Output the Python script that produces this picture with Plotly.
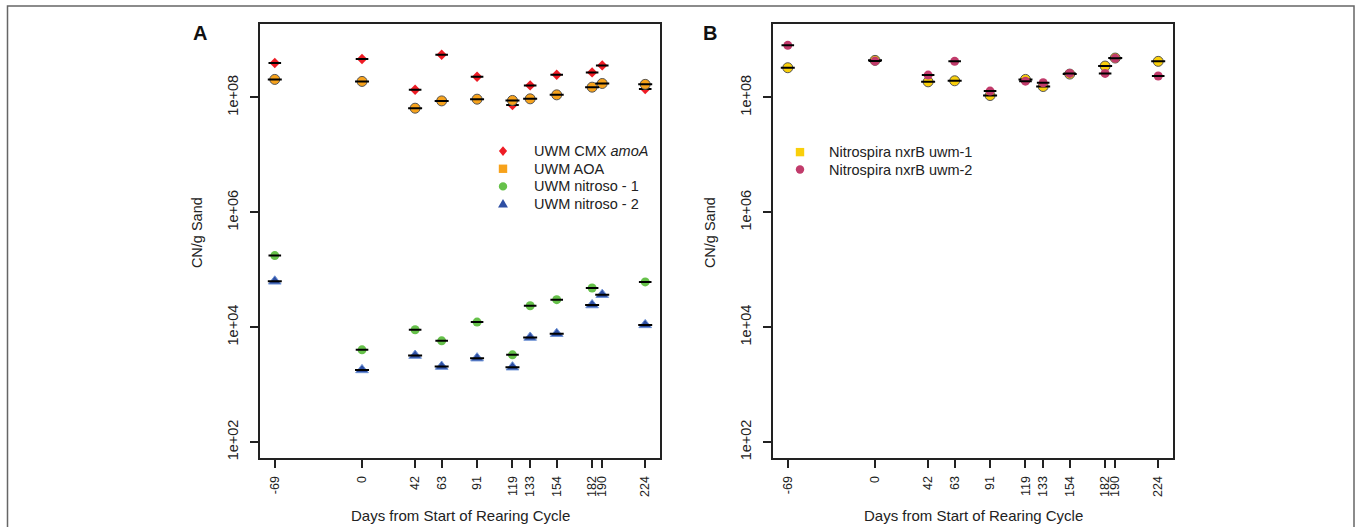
import plotly.graph_objects as go

W, H = 1358, 527

# ---------------- data ----------------
days = [-69, 0, 42, 63, 91, 119, 133, 154, 182, 190, 224]
day_labels = [str(d) for d in days]

cmx_amoA = [3.97e8, 4.66e8, 1.36e8, 5.55e8, 2.29e8, 7.41e7, 1.62e8, 2.48e8, 2.73e8, 3.61e8, 1.40e8]
aoa = [2.06e8, 1.90e8, 6.50e7, 8.71e7, 9.33e7, 8.87e7, 9.46e7, 1.11e8, 1.51e8, 1.75e8, 1.69e8]
nitroso_1 = [1.77e5, 4.05e3, 9.04e3, 5.81e3, 1.23e4, 3.31e3, 2.37e4, 3.02e4, 4.83e4, None, 6.15e4]
nitroso_2 = [6.31e4, 1.81e3, 3.22e3, 2.07e3, 2.90e3, 2.02e3, 6.64e3, 7.71e3, 2.44e4, 3.69e4, 1.10e4]

nxrB_uwm1 = [3.29e8, 4.42e8, 1.87e8, 1.95e8, 1.08e8, 2.06e8, 1.55e8, 2.55e8, 3.52e8, 4.85e8, 4.25e8]
nxrB_uwm2 = [8.07e8, 4.30e8, 2.45e8, 4.25e8, 1.29e8, 1.92e8, 1.80e8, 2.62e8, 2.62e8, 4.79e8, 2.36e8]

y_tickvals = [1e2, 1e4, 1e6, 1e8]
y_ticktext = ["1e+02", "1e+04", "1e+06", "1e+08"]

legend_a = ["UWM CMX <i>amoA</i>", "UWM AOA", "UWM nitroso - 1", "UWM nitroso - 2"]
legend_b = ["Nitrospira nxrB uwm-1", "Nitrospira nxrB uwm-2"]

RED = "#ee1c25"
ORANGE = "#f7a21b"
GREEN = "#66c14a"
BLUE = "#2e4fa3"
YELLOW = "#f9cf0a"
MAGENTA = "#c13b6b"

FONT = "Liberation Sans, Arial, sans-serif"


def px(x):
    return x / W


def py(y):
    return 1 - y / H


fig = go.Figure()


def add_series(xa, ya, yvals, name, symbol, color, size, line_color=None, line_width=0, bar_w=9):
    fig.add_trace(go.Scatter(
        x=days, y=yvals, mode="markers", name=name, showlegend=False,
        xaxis=xa, yaxis=ya,
        marker=dict(symbol=symbol, color=color, size=size,
                    line=dict(color=line_color or color, width=line_width)),
        hoverinfo="x+y"))
    fig.add_trace(go.Scatter(
        x=days, y=yvals, mode="markers", showlegend=False, hoverinfo="skip",
        xaxis=xa, yaxis=ya,
        marker=dict(symbol="line-ew", size=bar_w, color="black",
                    line=dict(color="black", width=2))))


# Panel A
add_series("x", "y", cmx_amoA, legend_a[0], "diamond", RED, 8, bar_w=9)
add_series("x", "y", aoa, legend_a[1], "circle", ORANGE, 10, line_color="#555555", line_width=1, bar_w=10)
add_series("x", "y", nitroso_1, legend_a[2], "circle", GREEN, 9, bar_w=9)
add_series("x", "y", nitroso_2, legend_a[3], "triangle-up", BLUE, 11, line_color="#6f93d6", line_width=1, bar_w=10)

# Panel B
add_series("x2", "y2", nxrB_uwm1, legend_b[0], "circle", YELLOW, 10, line_color="#555555", line_width=1, bar_w=10)
add_series("x2", "y2", nxrB_uwm2, legend_b[1], "circle", MAGENTA, 9, bar_w=9)

ydom = [py(460), py(24)]
xaxis_common = dict(
    range=[-80.7, 235.7], tickmode="array", tickvals=days, ticktext=day_labels,
    tickangle=-90, ticks="outside", ticklen=8, tickwidth=1.5, tickcolor="#222222",
    showline=True, linecolor="#222222", linewidth=1.6, mirror=True,
    showgrid=False, zeroline=False, tickfont=dict(family=FONT, size=12.5, color="#222222"),
    ticklabelstandoff=3,
)
yaxis_common = dict(
    type="log", range=[1.72, 9.28], domain=ydom, tickmode="array",
    tickvals=y_tickvals, ticktext=y_ticktext, tickangle=-90,
    ticks="outside", ticklen=8, tickwidth=1.5, tickcolor="#222222",
    showline=True, linecolor="#222222", linewidth=1.6, mirror=True,
    showgrid=False, zeroline=False, tickfont=dict(family=FONT, size=14.5, color="#222222"),
    ticklabelstandoff=6,
)

fig.update_layout(
    width=W, height=H, margin=dict(l=0, r=0, t=0, b=0),
    paper_bgcolor="white", plot_bgcolor="white", showlegend=False,
    font=dict(family=FONT, color="#222222"),
    xaxis=dict(domain=[px(260), px(660)], anchor="y", **xaxis_common),
    yaxis=dict(anchor="x", **yaxis_common),
    xaxis2=dict(domain=[px(773), px(1173)], anchor="y2", **xaxis_common),
    yaxis2=dict(anchor="x2", **yaxis_common),
)

shapes = []
annotations = []

# outer border
shapes.append(dict(type="rect", xref="paper", yref="paper",
                   x0=px(7.5), x1=px(1354), y0=-0.05, y1=py(6),
                   line=dict(color="#666666", width=1.5), fillcolor="rgba(0,0,0,0)", layer="below"))

# panel letters
annotations.append(dict(text="<b>A</b>", x=px(200), y=py(33), xref="paper", yref="paper",
                        showarrow=False, font=dict(size=20, family=FONT, color="#111111"),
                        xanchor="center", yanchor="middle"))
annotations.append(dict(text="<b>B</b>", x=px(710), y=py(33), xref="paper", yref="paper",
                        showarrow=False, font=dict(size=20, family=FONT, color="#111111"),
                        xanchor="center", yanchor="middle"))

# axis titles
for cx in [460, 973]:
    annotations.append(dict(text="Days from Start of Rearing Cycle", x=px(cx), y=py(517),
                            xref="paper", yref="paper", showarrow=False,
                            font=dict(size=15, family=FONT, color="#222222"),
                            xanchor="center", yanchor="middle"))
for tx in [197, 710]:
    annotations.append(dict(text="CN/g Sand", x=px(tx), y=py(234), textangle=-90,
                            xref="paper", yref="paper", showarrow=False,
                            font=dict(size=14.5, family=FONT, color="#222222"),
                            xanchor="center", yanchor="middle"))


# legend markers (drawn as shapes) + text
def diamond(cx, cy, r, color):
    path = (f"M {px(cx)},{py(cy - r)} L {px(cx + r * 0.85)},{py(cy)} "
            f"L {px(cx)},{py(cy + r)} L {px(cx - r * 0.85)},{py(cy)} Z")
    return dict(type="path", xref="paper", yref="paper", path=path,
                fillcolor=color, line=dict(width=0))


def square(cx, cy, r, color):
    return dict(type="rect", xref="paper", yref="paper", x0=px(cx - r), x1=px(cx + r),
                y0=py(cy + r), y1=py(cy - r), fillcolor=color, line=dict(width=0))


def circle(cx, cy, r, color):
    return dict(type="circle", xref="paper", yref="paper", x0=px(cx - r), x1=px(cx + r),
                y0=py(cy + r), y1=py(cy - r), fillcolor=color, line=dict(width=0))


def triangle(cx, cy, r, color):
    path = (f"M {px(cx - r * 1.1)},{py(cy + r * 0.75)} L {px(cx + r * 1.1)},{py(cy + r * 0.75)} "
            f"L {px(cx)},{py(cy - r * 1.1)} Z")
    return dict(type="path", xref="paper", yref="paper", path=path,
                fillcolor=color, line=dict(width=0))


rows_a = [151.7, 169.4, 187.1, 204.8]
shapes.append(diamond(503, rows_a[0], 4.8, RED))
shapes.append(square(503, rows_a[1], 4.2, ORANGE))
shapes.append(circle(503, rows_a[2], 4.2, GREEN))
shapes.append(triangle(503, rows_a[3], 4.5, BLUE))
for name, ry in zip(legend_a, rows_a):
    annotations.append(dict(text=name, x=px(532), y=py(ry), xref="paper", yref="paper",
                            showarrow=False, xanchor="left", yanchor="middle",
                            font=dict(size=14.5, family=FONT, color="#222222")))

rows_b = [152.7, 170.2]
shapes.append(square(800, rows_b[0], 4.2, YELLOW))
shapes.append(circle(800, rows_b[1], 4.2, MAGENTA))
for name, ry in zip(legend_b, rows_b):
    annotations.append(dict(text=name, x=px(827), y=py(ry), xref="paper", yref="paper",
                            showarrow=False, xanchor="left", yanchor="middle",
                            font=dict(size=14.5, family=FONT, color="#222222")))

fig.update_layout(shapes=shapes, annotations=annotations)

fig.write_html("out.html", config={"displayModeBar": False},
               post_script="document.body.style.margin='0px';document.body.style.overflow='hidden';")
